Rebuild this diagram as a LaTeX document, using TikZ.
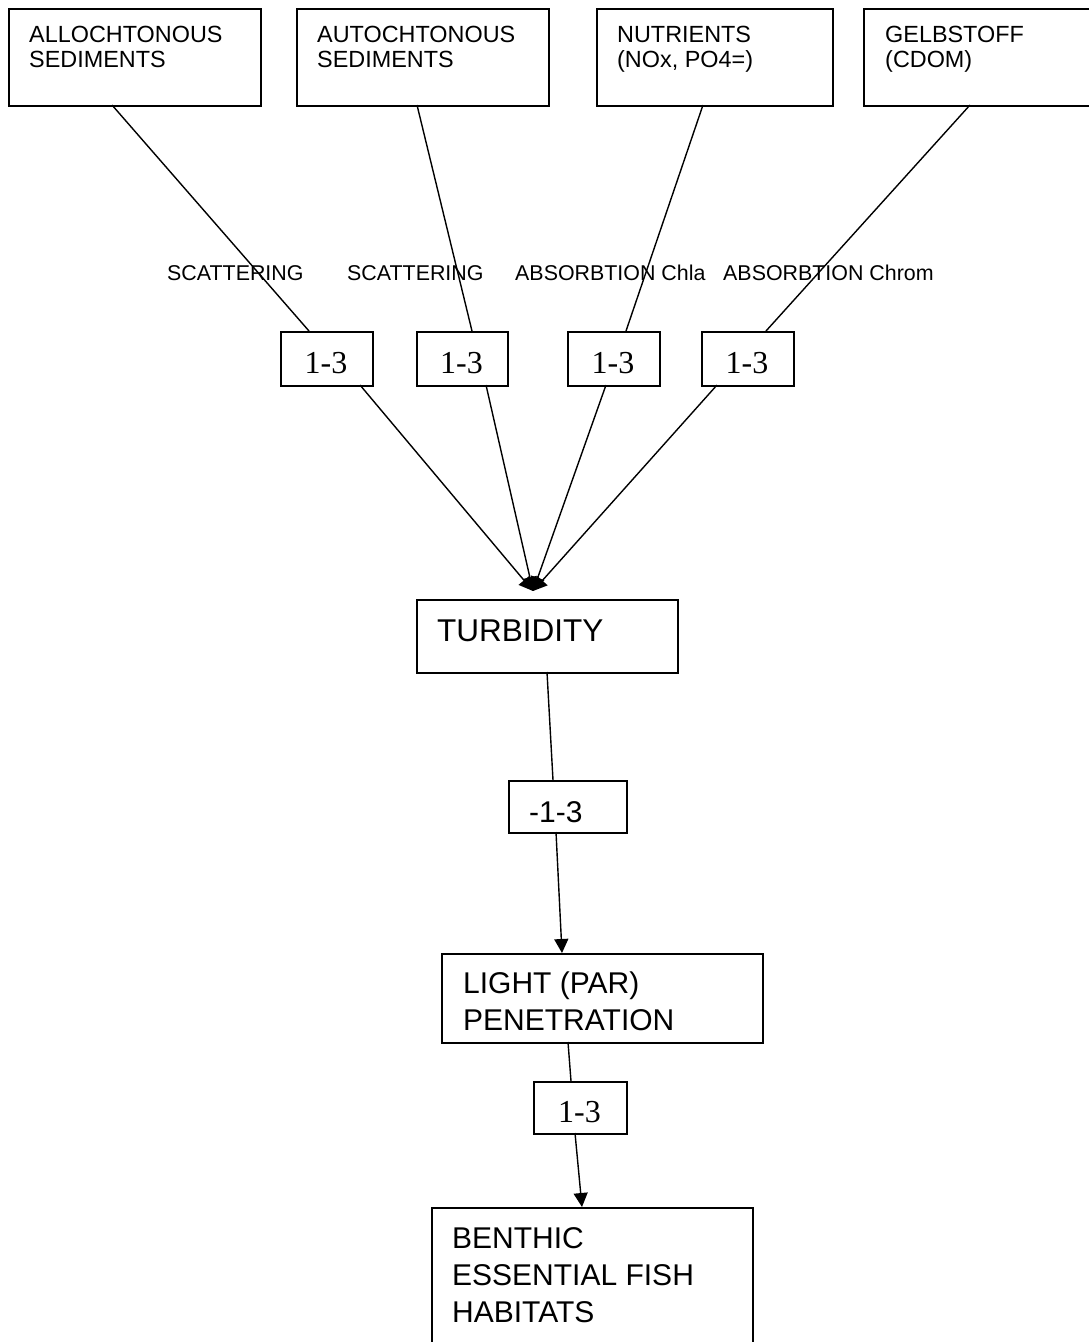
\documentclass[tikz,border=0pt]{standalone}
\usepackage{fontspec}
\setmainfont{Liberation Sans}
\newfontfamily\numserif{Liberation Serif}
\usetikzlibrary{arrows.meta}
\begin{document}
\begin{tikzpicture}[x=1pt,y=-1pt,
  box/.style={draw, line width=1.6pt, rectangle, inner sep=0pt, anchor=north west},
  txt/.style={inner sep=0pt, anchor=base west, font=\fontsize{23.4}{25}\selectfont},
  bigtxt/.style={inner sep=0pt, anchor=base west, font=\fontsize{30}{36}\selectfont},
  lbl/.style={inner sep=0pt, anchor=base west, font=\fontsize{21.4}{24}\selectfont},
  numtxt/.style={inner sep=0pt, anchor=base, font=\numserif\fontsize{32}{36}\selectfont},
  conn/.style={line width=1.4pt},
  arr/.style={conn, -{Triangle[width=14pt,length=14pt]}},
]
\useasboundingbox (0,0) rectangle (1089,1342);

% top boxes
\node[box, minimum width=252pt, minimum height=97pt] (A1) at (8,8) {};
\node[box, minimum width=252pt, minimum height=97pt] (A2) at (296,8) {};
\node[box, minimum width=236pt, minimum height=97pt] (A3) at (596,8) {};
\node[box, minimum width=260pt, minimum height=97pt] (A4) at (863,8) {};
\node[txt] (A1l1) at (29,42) {ALLOCHTONOUS};
\node[txt] (A1l2) at (29,67) {SEDIMENTS};
\node[txt] (A2l1) at (317,42) {AUTOCHTONOUS};
\node[txt] (A2l2) at (317,67) {SEDIMENTS};
\node[txt] (A3l1) at (617,42) {NUTRIENTS};
\node[txt] (A3l2) at (617,67) {(NOx, PO4=)};
\node[txt] (A4l1) at (885,42) {GELBSTOFF};
\node[txt] (A4l2) at (885,67) {(CDOM)};

% process labels
\node[lbl] (L1) at (167,280) {SCATTERING};
\node[lbl] (L2) at (347,280) {SCATTERING};
\node[lbl] (L3) at (515,280) {ABSORBTION Chla};
\node[lbl] (L4) at (723,280) {ABSORBTION Chrom};

% 1-3 boxes
\node[box, minimum width=92pt, minimum height=54pt] (S1) at (280,331) {};
\node[box, minimum width=91pt, minimum height=54pt] (S2) at (416,331) {};
\node[box, minimum width=92pt, minimum height=54pt] (S3) at (567,331) {};
\node[box, minimum width=92pt, minimum height=54pt] (S4) at (701,331) {};
\node[numtxt] (S1t) at (326,373) {1-3};
\node[numtxt] (S2t) at (461.5,373) {1-3};
\node[numtxt] (S3t) at (613,373) {1-3};
\node[numtxt] (S4t) at (747,373) {1-3};

% turbidity
\node[box, minimum width=261pt, minimum height=73pt] (T) at (416,599) {};
\node[inner sep=0pt, anchor=base west, font=\fontsize{31.5}{36}\selectfont] (Tt) at (437,641) {TURBIDITY};

% -1-3
\node[box, minimum width=118pt, minimum height=52pt] (M) at (508,780) {};
\node[inner sep=0pt, anchor=base west, font=\fontsize{30}{34}\selectfont] (Mt) at (529,822) {-1-3};

% light
\node[box, minimum width=321pt, minimum height=89pt] (L) at (441,953) {};
\node[bigtxt] (Lt1) at (463,993) {LIGHT (PAR)};
\node[bigtxt] (Lt2) at (463,1030) {PENETRATION};

% bottom 1-3
\node[box, minimum width=93pt, minimum height=52pt] (B) at (533,1081) {};
\node[numtxt] (Bt) at (579.5,1122) {1-3};

% benthic
\node[box, minimum width=321pt, minimum height=200pt] (E) at (431,1207) {};
\node[bigtxt] (Et1) at (452,1248) {BENTHIC};
\node[bigtxt] (Et2) at (452,1285) {ESSENTIAL FISH};
\node[bigtxt] (Et3) at (452,1322) {HABITATS};

% connector end points
\coordinate (a1b) at (112,105);
\coordinate (a2b) at (417,105);
\coordinate (a3b) at (703,105);
\coordinate (a4b) at (970,105);
\coordinate (s1t) at (309,331);
\coordinate (s2t) at (472,331);
\coordinate (s3t) at (626,331);
\coordinate (s4t) at (766,331);
\coordinate (s1b) at (360,385);
\coordinate (s2b) at (486,385);
\coordinate (s3b) at (606,385);
\coordinate (s4b) at (717,385);
\coordinate (tip) at (533,591);
\coordinate (tb) at (547,672);
\coordinate (mt) at (553,780);
\coordinate (mb) at (556,832);
\coordinate (lt) at (562,953);
\coordinate (lb) at (568,1042);
\coordinate (bt) at (571,1081);
\coordinate (bb) at (575,1133);
\coordinate (et) at (582,1207);

\draw[conn] (a1b) -- (s1t);
\draw[conn] (a2b) -- (s2t);
\draw[conn] (a3b) -- (s3t);
\draw[conn] (a4b) -- (s4t);
\draw[arr] (s1b) -- (tip);
\draw[arr] (s2b) -- (tip);
\draw[arr] (s3b) -- (tip);
\draw[arr] (s4b) -- (tip);
\draw[conn] (tb) -- (mt);
\draw[arr] (mb) -- (lt);
\draw[conn] (lb) -- (bt);
\draw[arr] (bb) -- (et);
\end{tikzpicture}
\end{document}
